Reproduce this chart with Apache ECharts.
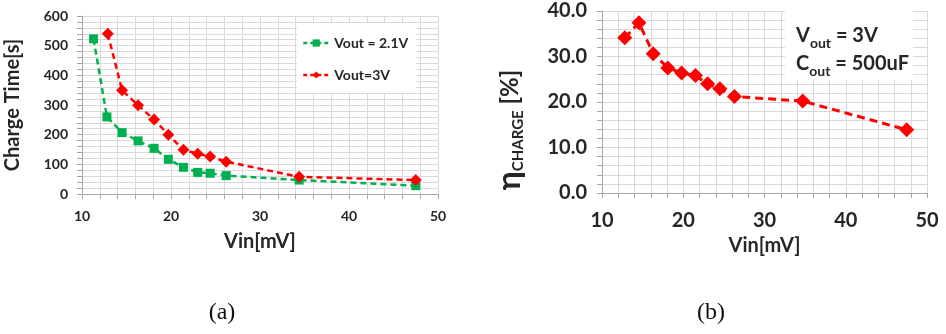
<!DOCTYPE html>
<html>
<head>
<meta charset="utf-8">
<script src="https://cdn.jsdelivr.net/npm/echarts@6/dist/echarts.min.js"></script>
<style>
  html, body { margin: 0; padding: 0; background: #fff; }
  #main { width: 946px; height: 334px; }
</style>
</head>
<body>
<div id="main"></div>
<script>
// (a) charge time vs input voltage
var vin21 = [11.3, 12.8, 14.5, 16.3, 18.1, 19.7, 21.4, 23.0, 24.4, 26.2, 34.4, 47.5];
var time21 = [523, 260, 207, 179, 154, 117, 90, 73, 70, 62, 47, 28];
var vin3 = [12.9, 14.5, 16.3, 18.1, 19.7, 21.4, 23.0, 24.4, 26.2, 34.4, 47.5];
var time3 = [540, 350, 299, 251, 200, 149, 136, 126, 109, 58, 47];
// (b) charging efficiency
var vinEta = [12.8, 14.55, 16.3, 18.1, 19.8, 21.5, 23.0, 24.5, 26.3, 34.7, 47.5];
var eta = [34.1, 37.4, 30.6, 27.5, 26.4, 25.8, 24.0, 22.9, 21.2, 20.2, 13.9];

function pairs(xs, ys) {
  return xs.map(function (x, i) { return [x, ys[i]]; });
}

var FONT = 'Lato, "Open Sans", sans-serif';
var TXT = '#262626';
var GRIDC = '#d9d9d9';

function xAxisOf(gi, fs, margin) {
  return {
    type: 'value', gridIndex: gi, min: 10, max: 50, interval: 10,
    name: 'Vin[mV]', nameLocation: 'middle', nameGap: 38,
    nameTextStyle: { fontFamily: FONT, fontWeight: 'bold', fontSize: 20, color: TXT },
    axisLine: { show: true, lineStyle: { color: '#a6a6a6', width: 1 } },
    axisTick: { show: true, length: 5, lineStyle: { color: '#a6a6a6' } },
    minorTick: { show: true, splitNumber: 5, length: 5, lineStyle: { color: '#a6a6a6' } },
    axisLabel: { fontFamily: FONT, fontWeight: 'bold', fontSize: fs, color: TXT, margin: margin },
    splitLine: { show: true, lineStyle: { color: GRIDC } },
    minorSplitLine: { show: true, lineStyle: { color: GRIDC } }
  };
}

var chart = echarts.init(document.getElementById('main'));

var option = {
  backgroundColor: '#fff',
  animation: false,
  grid: [
    { left: 82, top: 16, width: 356, height: 178 },
    { left: 602, top: 11, width: 325, height: 182 }
  ],
  xAxis: [xAxisOf(0, 14, 15), xAxisOf(1, 20, 18)],
  yAxis: [{
    type: 'value', gridIndex: 0, min: 0, max: 600, interval: 100,
    name: 'Charge Time[s]', nameLocation: 'middle', nameGap: 59,
    nameTextStyle: { fontFamily: FONT, fontWeight: 'bold', fontSize: 20, color: TXT },
    axisLine: { show: true, lineStyle: { color: '#a6a6a6' } },
    axisTick: { show: true, length: 5, lineStyle: { color: '#a6a6a6' } },
    minorTick: { show: true, splitNumber: 5, length: 5, lineStyle: { color: '#a6a6a6' } },
    axisLabel: { fontFamily: FONT, fontWeight: 'bold', fontSize: 14, color: TXT, margin: 14 },
    splitLine: { show: true, lineStyle: { color: GRIDC } },
    minorSplitLine: { show: true, lineStyle: { color: GRIDC } }
  }, {
    type: 'value', gridIndex: 1, min: 0, max: 40, interval: 10,
    name: '{e|η}{s|CHARGE}{b| [%]}', nameLocation: 'middle', nameGap: 76,
    nameTextStyle: {
      color: TXT,
      padding: [0, 56, 0, 0],
      rich: {
        e: { fontFamily: FONT, fontSize: 32, fontWeight: 'bold', color: TXT, lineHeight: 32 },
        s: { fontFamily: FONT, fontSize: 15, fontWeight: 'bold', color: TXT, verticalAlign: 'bottom' },
        b: { fontFamily: FONT, fontSize: 24, fontWeight: 'bold', color: TXT }
      }
    },
    axisLine: { show: true, lineStyle: { color: '#a6a6a6' } },
    axisTick: { show: true, length: 5, lineStyle: { color: '#a6a6a6' } },
    minorTick: { show: true, splitNumber: 5, length: 5, lineStyle: { color: '#a6a6a6' } },
    axisLabel: {
      fontFamily: FONT, fontWeight: 'bold', fontSize: 20, color: TXT, margin: 15,
      formatter: function (v) { return v.toFixed(1); }
    },
    splitLine: { show: true, lineStyle: { color: GRIDC } },
    minorSplitLine: { show: true, lineStyle: { color: GRIDC } }
  }],
  legend: {
    left: 297, top: 23, orient: 'vertical',
    backgroundColor: '#fff',
    padding: [13, 8, 11, 5],
    itemWidth: 26, itemHeight: 9, itemGap: 18,
    lineStyle: { type: [4, 3], width: 2.5 },
    textStyle: { fontFamily: FONT, fontWeight: 'bold', fontSize: 14, color: TXT, lineHeight: 14 },
    data: ['Vout = 2.1V', 'Vout=3V']
  },
  series: [{
    name: 'Vout = 2.1V', type: 'line', xAxisIndex: 0, yAxisIndex: 0,
    data: pairs(vin21, time21),
    symbol: 'rect', symbolSize: 9,
    itemStyle: { color: '#00b050' },
    lineStyle: { color: '#00b050', width: 2.5, type: [6, 4] }
  }, {
    name: 'Vout=3V', type: 'line', xAxisIndex: 0, yAxisIndex: 0,
    data: pairs(vin3, time3),
    symbol: 'diamond', symbolSize: 12,
    itemStyle: { color: '#ff0000' },
    lineStyle: { color: '#ff0000', width: 2.5, type: [6, 4] }
  }, {
    name: 'eta', type: 'line', xAxisIndex: 1, yAxisIndex: 1,
    data: pairs(vinEta, eta),
    symbol: 'diamond', symbolSize: 15,
    itemStyle: { color: '#ff0000' },
    lineStyle: { color: '#ff0000', width: 3, type: [8, 5] }
  }],
  graphic: [{
    type: 'rect', z: 50,
    shape: { x: 785, y: 10, width: 128, height: 70 },
    style: { fill: '#fff' }
  }, {
    type: 'text', z: 51, x: 796, y: 22,
    style: {
      text: '{v|V}{s|out}{v| = 3V}\n{v|C}{s|out}{v| = 500uF}',
      rich: {
        v: { fontFamily: FONT, fontSize: 20, fontWeight: 'bold', fill: TXT, lineHeight: 28 },
        s: { fontFamily: FONT, fontSize: 14, fontWeight: 'bold', fill: TXT, verticalAlign: 'bottom' }
      }
    }
  }, {
    type: 'text', x: 222, y: 313,
    style: { text: '(a)', fontFamily: '"Liberation Serif", serif', fontSize: 24, fill: '#111', align: 'center', verticalAlign: 'middle' }
  }, {
    type: 'text', x: 711, y: 313,
    style: { text: '(b)', fontFamily: '"Liberation Serif", serif', fontSize: 24, fill: '#111', align: 'center', verticalAlign: 'middle' }
  }]
};

chart.setOption(option);
</script>
</body>
</html>
